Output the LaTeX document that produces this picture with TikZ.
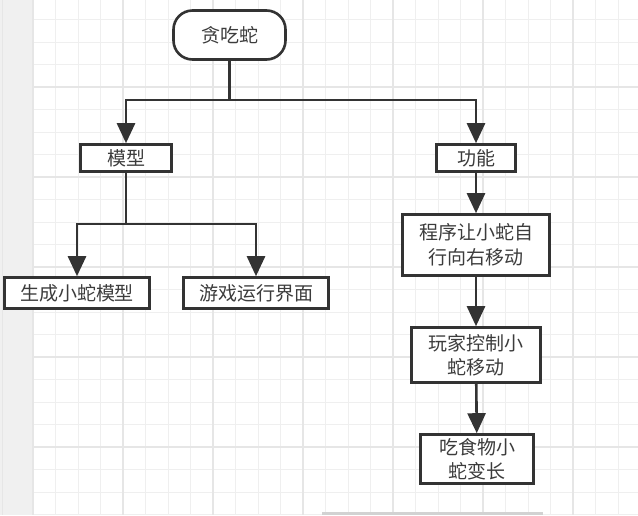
\documentclass[tikz,border=0pt]{standalone}
\usepackage{fontspec}
\setmainfont{Noto Sans CJK SC}
\usetikzlibrary{arrows.meta}
\definecolor{linegray}{HTML}{333333}
\definecolor{textgray}{HTML}{3C3C3C}
\definecolor{gridminor}{HTML}{EFEFEF}
\definecolor{gridmajor}{HTML}{E6E6E6}
\definecolor{stripgray}{HTML}{F0F0F0}
\begin{document}
\begin{tikzpicture}[x=1pt, y=-1pt, font=\fontsize{19}{24.5}\selectfont, root_style/.style={draw=linegray,line width=2.6pt,fill=white,rounded corners=19pt,minimum width=112pt,minimum height=49pt,inner sep=0pt,text=textgray}, box_style/.style={draw=linegray,line width=2.6pt,fill=white,inner sep=0pt,align=center,text=textgray}, edge_style/.style={draw=linegray,line width=2.6pt,-{Triangle[length=20pt,width=18pt]}}, grid_style/.style={draw=gridminor,line width=1pt}, major_grid_style/.style={draw=gridmajor,line width=1.2pt}]
      \useasboundingbox (0,0) rectangle (638,515);
      \fill[white] (0,0) rectangle (638,515);
      \foreach \k in {0,...,26} {
        \draw[grid_style] (33+22.5*\k,0) -- (33+22.5*\k,515);
      }
      \foreach \k in {1,...,23} {
        \draw[grid_style] (32,-3+22.5*\k) -- (638,-3+22.5*\k);
      }
      \foreach \k in {0,4,...,24} {
        \draw[major_grid_style] (33+22.5*\k,0) -- (33+22.5*\k,515);
      }
      \foreach \k in {4,8,...,20} {
        \draw[major_grid_style] (32,-3+22.5*\k) -- (638,-3+22.5*\k);
      }
      \fill[stripgray] (0,0) rectangle (32,515);
      \draw[gridmajor, line width=1pt] (2,0) -- (2,515);
      \fill[gray!35] (322,512) rectangle (543,515);
      \draw
        (229.5, 35) node[root_style] (snake){贪吃蛇}
        (126, 158) node[box_style,minimum width=91pt,minimum height=27pt] (model){模型}
        (476, 158) node[box_style,minimum width=79pt,minimum height=27pt] (func){功能}
        (77, 293) node[box_style,minimum width=145pt,minimum height=31pt] (gen){生成小蛇模型}
        (256, 293) node[box_style,minimum width=145pt,minimum height=31pt] (ui){游戏运行界面}
        (476, 245) node[box_style,minimum width=147pt,minimum height=61pt] (auto){程序让小蛇自\\行向右移动}
        (476, 355) node[box_style,minimum width=129pt,minimum height=55pt] (ctrl){玩家控制小\\蛇移动}
        (477, 459) node[box_style,minimum width=113pt,minimum height=49pt] (eat){吃食物小\\蛇变长};
      \coordinate (split_top) at (229.5, 100);
      \coordinate (split_model) at (126, 224);
      \begin{scope}
        \draw[edge_style] (snake) -- (split_top) -| (model);
        \draw[edge_style] (split_top) -| (func);
        \draw[edge_style] (model) -- (split_model) -| (gen);
        \draw[edge_style] (split_model) -| (ui);
        \draw[edge_style] (func) -- (auto);
        \draw[edge_style] (auto) -- (ctrl);
        \draw[edge_style] (ctrl) -- (eat);
      \end{scope}
    \end{tikzpicture}
\end{document}
